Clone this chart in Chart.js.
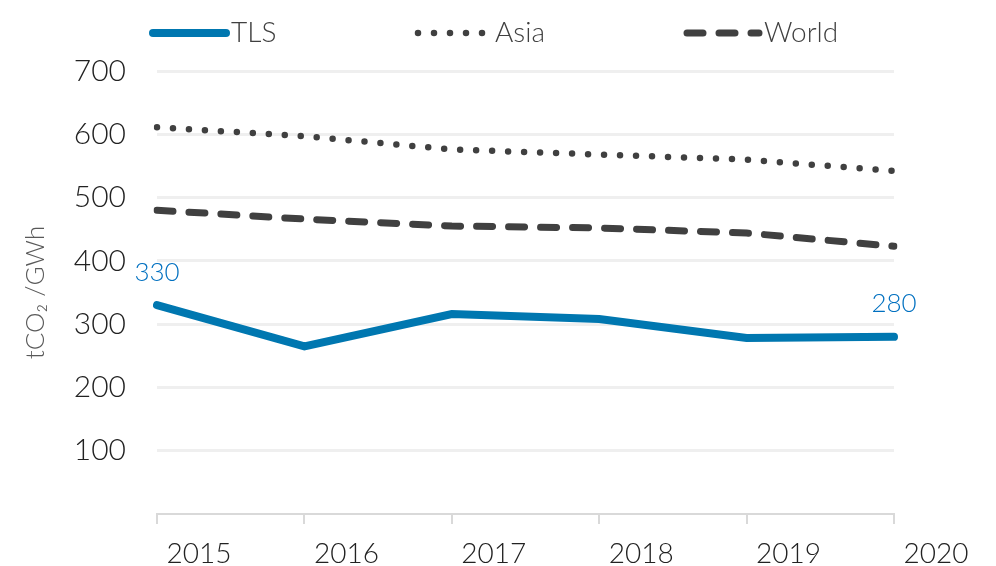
<!DOCTYPE html>
<html><head><meta charset="utf-8">
<script src="https://cdn.jsdelivr.net/npm/chart.js@4/dist/chart.umd.min.js"></script>
<style>html,body{margin:0;padding:0;background:#fff}</style>
</head><body>
<canvas id="c" width="996" height="566"></canvas>
<script>
const years = ['2015','2016','2017','2018','2019','2020'];
const tlsValues = [330, 265, 316, 308, 278, 280];
const asiaValues = [611, 597, 576, 568, 560, 542];
const worldValues = [480, 466, 455, 452, 444, 423];
const yTickValues = [100, 200, 300, 400, 500, 600, 700];
const seriesNames = ['TLS', 'Asia', 'World'];
const labelledPoints = [0, 5]; // indices of TLS points carrying a value label

const FONT = 'Lato, "Open Sans", sans-serif';

const legendPlugin = {
  id: 'customLegend',
  afterDraw(chart, args, opts) {
    const ctx = chart.ctx;
    ctx.save();
    chart.data.datasets.forEach((ds, i) => {
      const x = opts.xs[i], len = opts.lens[i], y = opts.y;
      ctx.beginPath();
      ctx.strokeStyle = ds.borderColor;
      ctx.lineWidth = ds.borderWidth;
      ctx.lineCap = ds.borderCapStyle || 'butt';
      ctx.setLineDash(ds.borderDash || []);
      ctx.moveTo(x, y);
      ctx.lineTo(x + len, y);
      ctx.stroke();
      ctx.setLineDash([]);
      ctx.fillStyle = '#404040';
      ctx.font = '300 28px ' + FONT;
      ctx.textAlign = 'left';
      ctx.textBaseline = 'middle';
      ctx.fillText(ds.label, x + len + 5, y);
    });
    ctx.restore();
  }
};

const valueLabelPlugin = {
  id: 'valueLabels',
  afterDatasetsDraw(chart) {
    const ctx = chart.ctx;
    const meta = chart.getDatasetMeta(0);
    const data = chart.data.datasets[0].data;
    ctx.save();
    ctx.fillStyle = '#0070c0';
    ctx.font = '300 26px ' + FONT;
    ctx.textAlign = 'center';
    ctx.textBaseline = 'middle';
    labelledPoints.forEach(i => {
      const p = meta.data[i];
      ctx.fillText(String(data[i]), p.x, p.y - 33);
    });
    ctx.restore();
  }
};

new Chart(document.getElementById('c'), {
  type: 'line',
  data: {
    labels: years,
    datasets: [
      { label: seriesNames[0], data: tlsValues, borderColor: '#0077b0', borderWidth: 8,
        borderCapStyle: 'round', pointRadius: 0, tension: 0, fill: false },
      { label: seriesNames[1], data: asiaValues, borderColor: '#404040', borderWidth: 6.5,
        borderCapStyle: 'round', borderDash: [0, 16], pointRadius: 0, tension: 0, fill: false },
      { label: seriesNames[2], data: worldValues, borderColor: '#404040', borderWidth: 7,
        borderCapStyle: 'round', borderDash: [16, 16], pointRadius: 0, tension: 0, fill: false }
    ]
  },
  options: {
    responsive: false,
    animation: false,
    devicePixelRatio: 1,
    layout: { padding: { top: 71, right: 102, left: 0, bottom: 0 } },
    plugins: {
      legend: { display: false },
      tooltip: { enabled: false },
      customLegend: { xs: [153, 418, 687], lens: [73, 72, 72], y: 33 }
    },
    scales: {
      x: {
        offset: false,
        grid: { drawOnChartArea: false, drawTicks: true, tickLength: 10, color: '#d9d9d9', lineWidth: 2 },
        border: { display: true, color: '#d9d9d9', width: 2 },
        ticks: { color: '#222', font: { family: FONT, size: 28, weight: '300' }, labelOffset: 42,
                 padding: 13, maxRotation: 0, autoSkip: false },
        afterFit(s) { s.height = 52; }
      },
      y: {
        min: 0, max: 700,
        grid: { color: ctx => ctx.tick.value === 0 ? 'rgba(0,0,0,0)' : '#efefef', lineWidth: 3, drawTicks: false },
        border: { display: false },
        ticks: { stepSize: 100, padding: 31, color: '#222',
                 font: { family: FONT, size: 30, weight: '300' },
                 callback: v => yTickValues.includes(v) ? String(v) : '' },
        title: { display: true, text: 'tCO₂ /GWh', color: '#595959',
                 font: { family: FONT, size: 26, weight: '300' }, padding: { top: 20, bottom: 0 } },
        afterFit(s) { s.width = 157; }
      }
    }
  },
  plugins: [legendPlugin, valueLabelPlugin]
});
</script>
</body></html>
